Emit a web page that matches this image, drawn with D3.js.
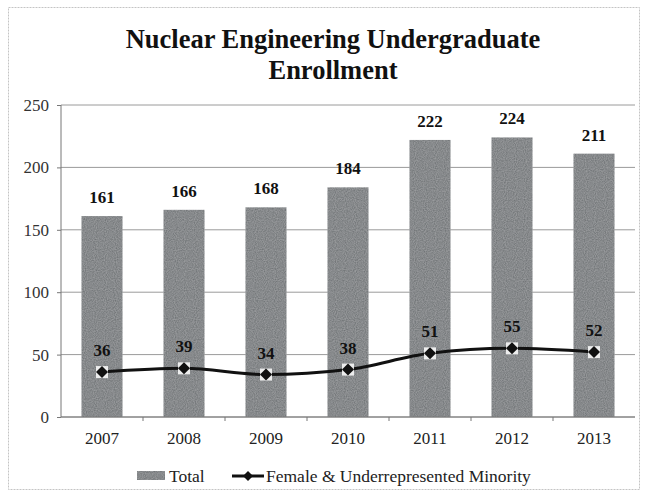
<!DOCTYPE html>
<html lang="en">
<meta charset="UTF-8">
<title>Nuclear Engineering Undergraduate Enrollment</title>
<style>
  body { margin: 0; background: #fff; }
  text { font-family: "Liberation Serif", "DejaVu Serif", serif; }
</style>
<script src="https://d3js.org/d3.v7.min.js"></script>
<body>
<div id="chart"></div>
<script>
// data
var years = ["2007", "2008", "2009", "2010", "2011", "2012", "2013"];
var total = [161, 166, 168, 184, 222, 224, 211];
var minority = [36, 39, 34, 38, 51, 55, 52];
var yTicks = [0, 50, 100, 150, 200, 250];

var W = 645, H = 498;
var margin = {top: 105, right: 10, bottom: 81, left: 61},
    width = 635 - margin.left,
    height = 417 - margin.top;

var svg = d3.select("#chart").append("svg")
    .attr("width", W)
    .attr("height", H);

// outer frame
svg.append("rect")
    .attr("x", 8.5).attr("y", 7.5)
    .attr("width", 631).attr("height", 482)
    .attr("fill", "none")
    .attr("stroke", "#c4c4c4")
    .attr("stroke-dasharray", "2,1");

// title
var title = svg.append("text")
    .attr("x", 333).attr("text-anchor", "middle")
    .style("font-size", "26.5px").style("font-weight", "bold").attr("fill", "#111");
title.append("tspan").attr("x", 333).attr("y", 48).text("Nuclear Engineering Undergraduate");
title.append("tspan").attr("x", 333).attr("y", 79).text("Enrollment");

var g = svg.append("g")
    .attr("transform", "translate(" + margin.left + "," + margin.top + ")");

var x = d3.scaleBand().domain(years).range([0, width]).paddingInner(0.5).paddingOuter(0.25);
var xc = d3.scaleBand().domain(years).range([0, width]);
var y = d3.scaleLinear().domain([0, 250]).range([height, 0]);

// gridlines
g.selectAll(".grid")
    .data(yTicks)
    .enter().append("line")
      .attr("x1", 0).attr("x2", width)
      .attr("y1", function(d) { return y(d); })
      .attr("y2", function(d) { return y(d); })
      .attr("stroke", "#9a9a9a")
      .attr("stroke-width", 1);

// grainy fill for the bars
var defs = svg.append("defs");
var filt = defs.append("filter").attr("id", "grain").attr("x", 0).attr("y", 0).attr("width", 1).attr("height", 1);
filt.append("feTurbulence").attr("type", "fractalNoise").attr("baseFrequency", 0.9).attr("numOctaves", 1).attr("result", "noise");
filt.append("feColorMatrix").attr("in", "noise").attr("type", "matrix")
    .attr("values", "0 0 0 0 0.5  0 0 0 0 0.52  0 0 0 0 0.53  0 0 0 -1.6 1.3").attr("result", "n2");
filt.append("feComposite").attr("in", "n2").attr("in2", "SourceGraphic").attr("operator", "in").attr("result", "n3");
filt.append("feBlend").attr("in", "n3").attr("in2", "SourceGraphic").attr("mode", "multiply");

g.selectAll(".bar")
    .data(total)
    .enter().append("rect")
      .attr("x", function(d, i) { return x(years[i]); })
      .attr("y", function(d) { return y(d); })
      .attr("width", x.bandwidth())
      .attr("height", function(d) { return height - y(d); })
      .attr("fill", "#9a9c9e")
      .attr("filter", "url(#grain)");

// total labels
g.selectAll(".tlab")
    .data(total)
    .enter().append("text")
      .attr("x", function(d, i) { return x(years[i]) + x.bandwidth() / 2; })
      .attr("y", function(d) { return y(d) - 13; })
      .attr("text-anchor", "middle")
      .style("font-size", "17px").style("font-weight", "bold").attr("fill", "#111")
      .text(function(d) { return d; });

// axes
g.append("line").attr("x1", 0).attr("x2", 0).attr("y1", 0).attr("y2", height).attr("stroke", "#777");
g.append("line").attr("x1", 0).attr("x2", width).attr("y1", height).attr("y2", height).attr("stroke", "#777");

var xAxis = g.append("g")
    .attr("transform", "translate(0," + height + ")")
    .call(d3.axisBottom(xc).tickSize(0).tickPadding(15));
xAxis.select(".domain").remove();
xAxis.selectAll("text").style("font-size", "17px").attr("fill", "#222").style("font-family", "Liberation Serif");
// little tick marks between categories
g.selectAll(".xt")
    .data(years.slice(1))
    .enter().append("line")
      .attr("x1", function(d) { return xc(d); })
      .attr("x2", function(d) { return xc(d); })
      .attr("y1", height).attr("y2", height + 4)
      .attr("stroke", "#777");

var yAxis = g.append("g")
    .call(d3.axisLeft(y).tickValues(yTicks).tickSize(4).tickPadding(8));
yAxis.select(".domain").remove();
yAxis.selectAll("line").attr("stroke", "#777");
yAxis.selectAll("text").style("font-size", "17px").attr("fill", "#333").style("font-family", "Liberation Serif");

// minority line
var line = d3.line()
    .x(function(d, i) { return xc(years[i]) + xc.bandwidth() / 2; })
    .y(function(d) { return y(d); })
    .curve(d3.curveMonotoneX);

g.append("path")
    .datum(minority)
    .attr("d", line)
    .attr("fill", "none")
    .attr("stroke", "#111")
    .attr("stroke-width", 3);

var pts = g.selectAll(".pt")
    .data(minority)
    .enter().append("g")
      .attr("transform", function(d, i) {
        return "translate(" + (xc(years[i]) + xc.bandwidth() / 2) + "," + y(d) + ")";
      });
pts.append("rect").attr("x", -6).attr("y", -6).attr("width", 12).attr("height", 12).attr("fill", "#fff").attr("opacity", 0.85);
pts.append("path").attr("d", "M0,-6L6,0L0,6L-6,0Z").attr("fill", "#111");

g.selectAll(".mlab")
    .data(minority)
    .enter().append("text")
      .attr("x", function(d, i) { return xc(years[i]) + xc.bandwidth() / 2; })
      .attr("y", function(d) { return y(d) - 16; })
      .attr("text-anchor", "middle")
      .style("font-size", "17px").style("font-weight", "bold").attr("fill", "#111")
      .text(function(d) { return d; });

// legend
var leg = svg.append("g").attr("transform", "translate(0,476)");
leg.append("rect").attr("x", 137).attr("y", -5).attr("width", 28).attr("height", 9)
    .attr("fill", "#9a9c9e").attr("filter", "url(#grain)");
leg.append("text").attr("x", 169).attr("y", 6).style("font-size", "17.5px").attr("fill", "#222").text("Total");
leg.append("line").attr("x1", 232).attr("x2", 264).attr("y1", 0).attr("y2", 0).attr("stroke", "#111").attr("stroke-width", 3);
leg.append("path").attr("d", "M248,-5L253,0L248,5L243,0Z").attr("fill", "#111");
leg.append("text").attr("x", 266).attr("y", 6).style("font-size", "17.5px").attr("fill", "#222").text("Female & Underrepresented Minority");
</script>
</body>
</html>
